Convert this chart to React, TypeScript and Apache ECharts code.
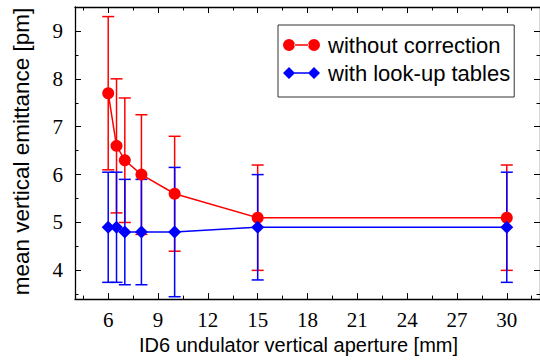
import React, { useEffect, useRef } from "react";
import * as echarts from "echarts";

const xData = [6, 6.5, 7, 8, 10, 15, 30];
const redMean = [7.7, 6.6, 6.3, 6.0, 5.6, 5.1, 5.1];
const redLow = [6.1, 5.2, 5.0, 4.75, 4.4, 4.0, 4.0];
const redHigh = [9.3, 8.0, 7.6, 7.25, 6.8, 6.2, 6.2];
const blueMean = [4.9, 4.9, 4.8, 4.8, 4.8, 4.9, 4.9];
const blueLow = [3.75, 3.75, 3.7, 3.7, 3.45, 3.8, 3.75];
const blueHigh = [6.05, 6.05, 5.9, 5.9, 6.15, 6.0, 6.05];

const xTicks = [6, 9, 12, 15, 18, 21, 24, 27, 30];
const xMinorTicks = [4.5, 7.5, 10.5, 13.5, 16.5, 19.5, 22.5, 25.5, 28.5, 31.5];
const yTicks = [4, 5, 6, 7, 8, 9];
const yMinorTicks = [3.5, 4.5, 5.5, 6.5, 7.5, 8.5, 9.5];

const seriesNames = ["without correction", "with look-up tables"];
const RED = "#ff0000";
const BLUE = "#0000ff";

const circleIcon =
  "path://M0,6a6,6 0 1,0 12,0a6,6 0 1,0 -12,0Z M11,5.3h15v1.4h-15Z M25,6a6,6 0 1,0 12,0a6,6 0 1,0 -12,0Z";
const diamondIcon =
  "path://M0,6L6,0L12,6L6,12Z M11,5.3h15v1.4h-15Z M25,6L31,0L37,6L31,12Z";

function errorBarSeries(low: number[], high: number[], color: string) {
  return {
    type: "custom",
    xAxisIndex: 0,
    yAxisIndex: 0,
    silent: true,
    data: xData.map((x, i) => [x, low[i], high[i]]),
    encode: { x: 0, y: [1, 2] },
    renderItem: (params: any, api: any) => {
      const x = api.value(0);
      const pLo = api.coord([x, api.value(1)]);
      const pHi = api.coord([x, api.value(2)]);
      const hw = 6;
      const style = { stroke: color, lineWidth: 1.5 };
      return {
        type: "group",
        children: [
          { type: "line", shape: { x1: pLo[0], y1: pLo[1], x2: pHi[0], y2: pHi[1] }, style },
          { type: "line", shape: { x1: pLo[0] - hw, y1: pLo[1], x2: pLo[0] + hw, y2: pLo[1] }, style },
          { type: "line", shape: { x1: pHi[0] - hw, y1: pHi[1], x2: pHi[0] + hw, y2: pHi[1] }, style },
        ],
      };
    },
  };
}

function xAxisDef(position: string, ticks: number[], len: number, showLabel: boolean, showLine: boolean) {
  return {
    type: "value",
    gridIndex: 0,
    position,
    min: 4,
    max: 32,
    axisLine: { show: showLine, onZero: false, lineStyle: { color: "#000", width: 1.3 } },
    axisTick: { show: true, inside: true, length: len, customValues: ticks, lineStyle: { color: "#000", width: 1 } },
    axisLabel: {
      show: showLabel,
      customValues: ticks,
      margin: 10,
      color: "#000",
      fontFamily: "Liberation Serif",
      fontSize: 21,
    },
    splitLine: { show: false },
  };
}

function yAxisDef(position: string, ticks: number[], len: number, showLabel: boolean, showLine: boolean) {
  return {
    type: "value",
    gridIndex: 0,
    position,
    min: 3.4,
    max: 9.5,
    axisLine: { show: showLine, onZero: false, lineStyle: { color: "#000", width: 1.3 } },
    axisTick: { show: true, inside: true, length: len, customValues: ticks, lineStyle: { color: "#000", width: 1 } },
    axisLabel: {
      show: showLabel,
      customValues: ticks,
      margin: 12,
      color: "#000",
      fontFamily: "Liberation Serif",
      fontSize: 21,
    },
    splitLine: { show: false },
  };
}

export default function App() {
  const ref = useRef<HTMLDivElement>(null);
  useEffect(() => {
    if (!ref.current) return;
    const chart = echarts.init(ref.current, null, { renderer: "svg" });
    const xAxes: any[] = [
      {
        ...xAxisDef("bottom", xTicks, 6, true, true),
        name: "ID6 undulator vertical aperture [mm]",
        nameLocation: "middle",
        nameGap: 34,
        nameTextStyle: { fontFamily: "Liberation Sans", fontSize: 20, color: "#000", padding: [0, 18, 0, 0] },
      },
      xAxisDef("bottom", xMinorTicks, 3.5, false, false),
      xAxisDef("top", xTicks, 6, false, true),
      xAxisDef("top", xMinorTicks, 3.5, false, false),
    ];
    const yAxes: any[] = [
      {
        ...yAxisDef("left", yTicks, 6, true, true),
        name: "mean vertical emittance [pm]",
        nameLocation: "middle",
        nameGap: 42,
        nameTextStyle: { fontFamily: "Liberation Sans", fontSize: 22.5, color: "#000", padding: [0, 0, 0, 3] },
      },
      yAxisDef("left", yMinorTicks, 3.5, false, false),
      yAxisDef("right", yTicks, 6, false, true),
      yAxisDef("right", yMinorTicks, 3.5, false, false),
    ];
    chart.setOption({
      animation: false,
      backgroundColor: "#fff",
      grid: { left: 75, right: 0, top: 7, bottom: 58, containLabel: false },
      xAxis: xAxes,
      yAxis: yAxes,
      legend: {
        left: 278,
        top: 25,
        orient: "vertical",
        data: [
          { name: seriesNames[0], icon: circleIcon },
          { name: seriesNames[1], icon: diamondIcon },
        ],
        itemWidth: 37,
        itemHeight: 12,
        itemGap: 6,
        padding: [9, 4, 13, 5],
        borderColor: "#333",
        borderWidth: 1,
        backgroundColor: "#fff",
        textStyle: { fontFamily: "Liberation Sans", fontSize: 22, color: "#000", padding: [0, 0, 0, 3] },
      },
      series: [
        errorBarSeries(redLow, redHigh, RED),
        errorBarSeries(blueLow, blueHigh, BLUE),
        {
          name: seriesNames[0],
          type: "line",
          xAxisIndex: 0,
          yAxisIndex: 0,
          data: xData.map((x, i) => [x, redMean[i]]),
          symbol: "circle",
          symbolSize: 12,
          lineStyle: { color: RED, width: 1.5 },
          itemStyle: { color: RED },
        },
        {
          name: seriesNames[1],
          type: "line",
          xAxisIndex: 0,
          yAxisIndex: 0,
          data: xData.map((x, i) => [x, blueMean[i]]),
          symbol: "diamond",
          symbolSize: 13,
          lineStyle: { color: BLUE, width: 1.5 },
          itemStyle: { color: BLUE },
        },
      ],
    });
    return () => chart.dispose();
  }, []);
  return <div ref={ref} style={{ width: 540, height: 360, position: "absolute", left: 0, top: 0 }} />;
}
